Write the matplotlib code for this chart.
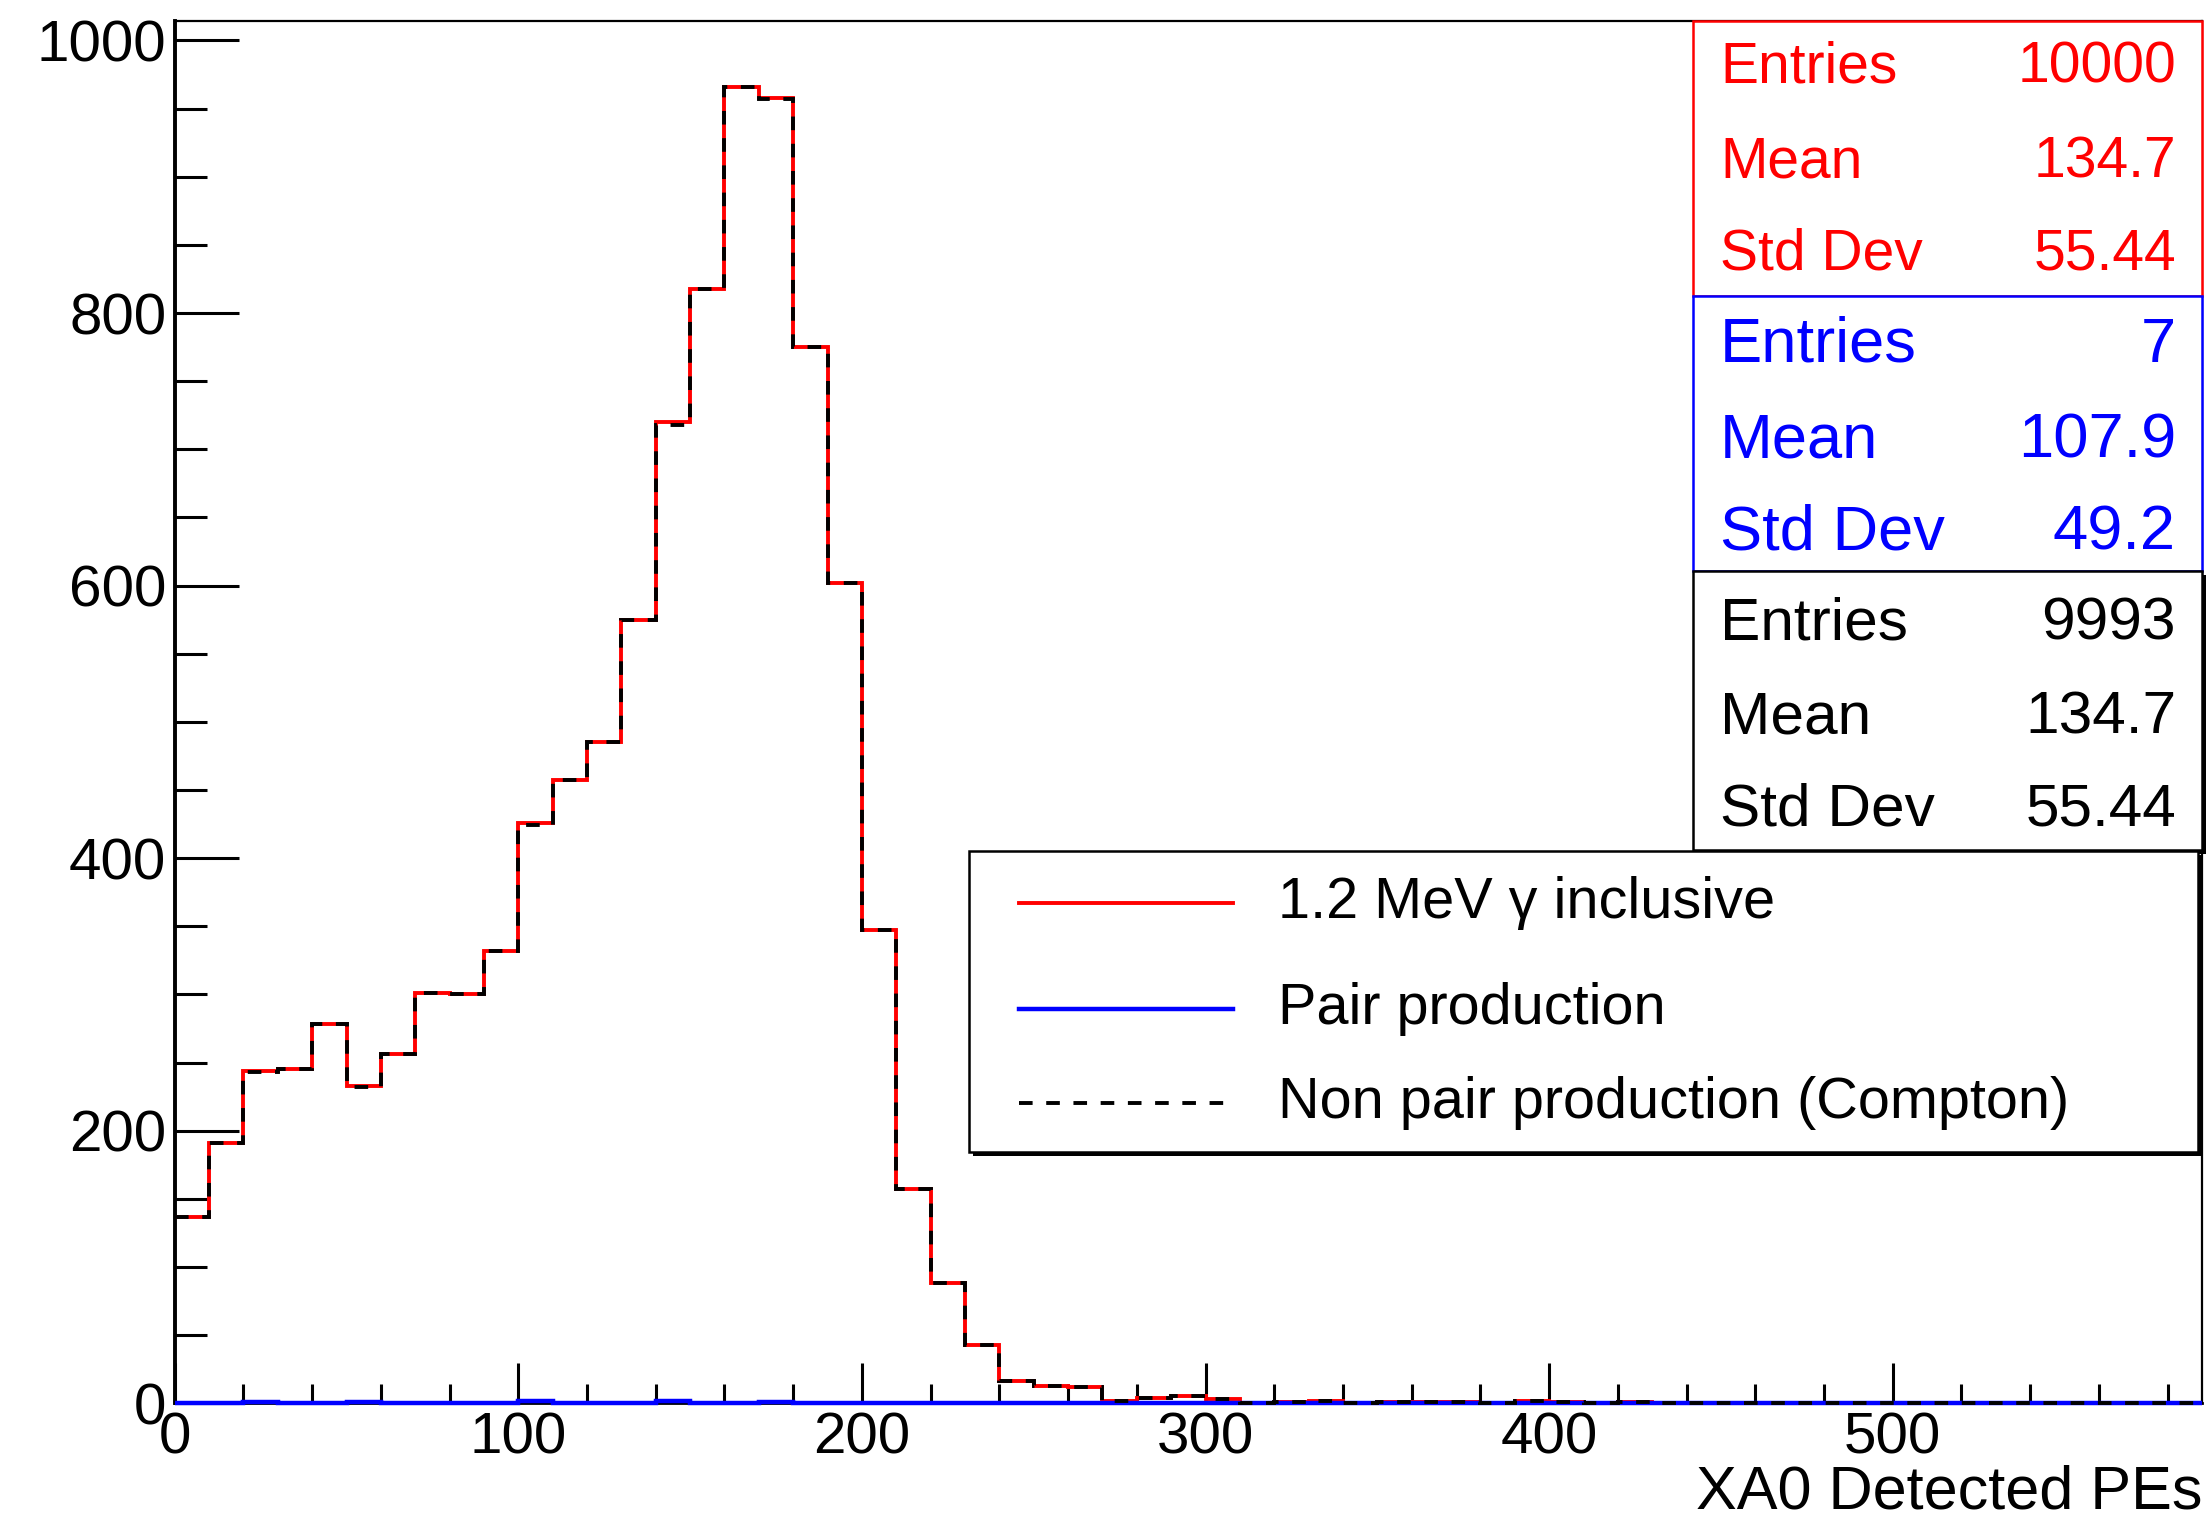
import matplotlib.pyplot as plt
import numpy as np
from matplotlib.patches import Rectangle
from matplotlib.lines import Line2D
from matplotlib.ticker import MultipleLocator

plt.rcParams['font.family'] = ['Liberation Sans', 'DejaVu Sans']

# 10-PE bins from 0 to 590
bin_edges = np.arange(0, 591, 10)

inclusive = [137, 191, 244, 245, 278, 233, 256, 301, 300, 332,
             426, 457, 485, 575, 720, 818, 966, 958, 775, 602,
             347, 157, 88, 43, 16, 13, 12, 2, 4, 5,
             3, 0, 1, 2, 0, 1, 1, 1, 0, 2,
             1, 0, 1, 0, 0, 0, 0, 0, 0, 0,
             0, 0, 0, 0, 0, 0, 0, 0, 0]
pair = [0, 0, 1, 0, 0, 1, 0, 0, 0, 0,
        2, 0, 0, 0, 2, 0, 0, 1, 0, 0,
        0, 0, 0, 0, 0, 0, 0, 0, 0, 0,
        0, 0, 0, 0, 0, 0, 0, 0, 0, 0,
        0, 0, 0, 0, 0, 0, 0, 0, 0, 0,
        0, 0, 0, 0, 0, 0, 0, 0, 0]
compton = [a - b for a, b in zip(inclusive, pair)]

legend_labels = ['1.2 MeV γ inclusive', 'Pair production', 'Non pair production (Compton)']
stat_names = ['Entries', 'Mean', 'Std Dev']
stat_values = [['10000', '134.7', '55.44'],
               ['7', '107.9', '49.2'],
               ['9993', '134.7', '55.44']]

W, H = 2209, 1530
fig = plt.figure(figsize=(W / 100, H / 100), dpi=100)


def fx(px):
    return px / W


def fy(py):
    return 1 - py / H


ax = fig.add_axes([fx(174.7), fy(1403.3), fx(2202) - fx(174.7), fy(21) - fy(1403.3)])

dash = (0, (3.5, 3.5))
ax.stairs(inclusive, bin_edges, color='red', lw=2.8, baseline=None, zorder=3, clip_on=False)
ax.stairs(pair, bin_edges, color='blue', lw=3.2, baseline=None, zorder=4, clip_on=False)
ax.stairs(compton, bin_edges, color='black', lw=2.8, linestyle=dash,
          baseline=None, zorder=5, clip_on=False)

ax.set_xlim(0, 590)
ax.set_ylim(0, 1.05 * max(inclusive))
ax.xaxis.set_major_locator(MultipleLocator(100))
ax.xaxis.set_minor_locator(MultipleLocator(20))
ax.yaxis.set_major_locator(MultipleLocator(200))
ax.yaxis.set_minor_locator(MultipleLocator(50))
ax.tick_params(axis='x', which='major', direction='in', length=29, width=2.2, pad=6, labelsize=42)
ax.tick_params(axis='x', which='minor', direction='in', length=14, width=2.2)
ax.tick_params(axis='y', which='major', direction='in', length=46, width=2.2, pad=6, labelsize=42)
ax.tick_params(axis='y', which='minor', direction='in', length=23, width=2.2)

ax.spines['left'].set_linewidth(2.8)
ax.spines['bottom'].set_linewidth(2)
ax.spines['top'].set_linewidth(1.6)
ax.spines['right'].set_linewidth(1.6)

fig.text(fx(2202), fy(1493), 'XA0 Detected PEs', ha='right', va='center', fontsize=44)

# stat boxes, stacked top-right
box_colors = ['red', 'blue', 'black']
box_edges = [21, 296, 570.6, 849.5]
row_y = [[67.6, 162, 255], [345, 441, 532.5], [624, 718.5, 810]]
box_fonts = [41, 45.5, 43.5]
for i, c in enumerate(box_colors):
    y0, y1 = box_edges[i], box_edges[i + 1]
    if c == 'black':
        fig.patches.append(Rectangle((fx(1697), fy(y1 + 4)), fx(2206) - fx(1697), fy(y0 + 4) - fy(y1 + 4),
                                     transform=fig.transFigure, facecolor='black',
                                     edgecolor='none', zorder=9))
    fig.patches.append(Rectangle((fx(1693), fy(y1)), fx(2202) - fx(1693), fy(y0) - fy(y1),
                                 transform=fig.transFigure, facecolor='white',
                                 edgecolor=c, lw=1.8, zorder=10))
    for j in range(3):
        fig.text(fx(1720), fy(row_y[i][j]), stat_names[j], color=c, fontsize=box_fonts[i],
                 ha='left', va='center', zorder=11)
        fig.text(fx(2176), fy(row_y[i][j]), stat_values[i][j], color=c, fontsize=box_fonts[i],
                 ha='right', va='center', zorder=11)

# legend
fig.patches.append(Rectangle((fx(973), fy(1156)), fx(2202) - fx(973), fy(855) - fy(1156),
                             transform=fig.transFigure, facecolor='black',
                             edgecolor='none', zorder=9))
fig.patches.append(Rectangle((fx(969), fy(1152)), fx(2198) - fx(969), fy(851) - fy(1152),
                             transform=fig.transFigure, facecolor='white',
                             edgecolor='black', lw=1.8, zorder=10))
leg_rows = [903, 1008.7, 1103]
leg_styles = [dict(color='red', lw=2.8), dict(color='blue', lw=3.2),
              dict(color='black', lw=2.8, linestyle=dash)]
for y, lab, st in zip(leg_rows, legend_labels, leg_styles):
    fig.lines.append(Line2D([fx(1018.6), fx(1232.7)], [fy(y), fy(y)],
                            transform=fig.transFigure, zorder=11, **st))
    fig.text(fx(1277.8), fy(y), lab, fontsize=41.5, ha='left', va='center', zorder=11)

fig.savefig('out.png', dpi=100)
